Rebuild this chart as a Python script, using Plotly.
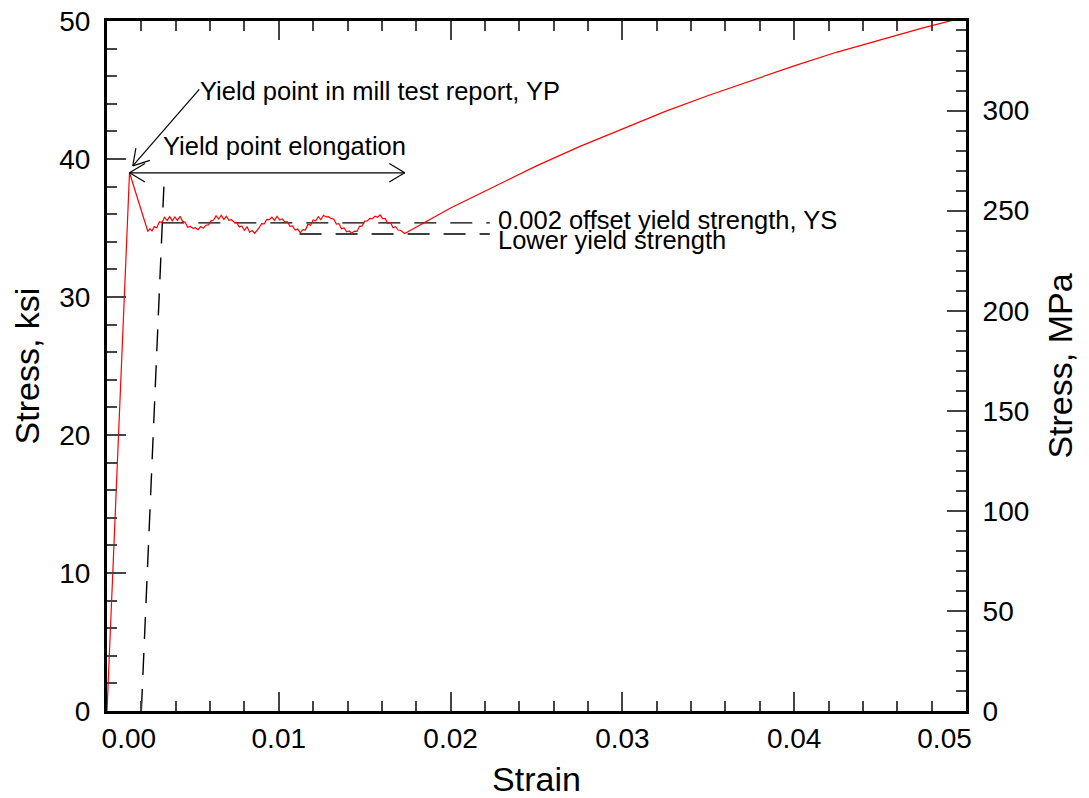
import math
import plotly.graph_objects as go

# ---------------- data ----------------
# elastic + upper yield point
elastic_strain = [0.0, 0.00131]
elastic_stress = [0.0, 39.0]

# yield plateau (includes noise)
plateau_strain = [0.00131, 0.00238, 0.00250, 0.00262, 0.00275, 0.00290, 0.00305, 0.00320, 0.00335, 0.00350,
                  0.00365, 0.00380, 0.00395, 0.00410, 0.00425, 0.00440, 0.00455, 0.00470, 0.00485, 0.00500,
                  0.00515, 0.00530, 0.00545, 0.00560, 0.00575, 0.00590, 0.00605, 0.00620, 0.00635, 0.00650,
                  0.00665, 0.00680, 0.00695, 0.00710, 0.00725, 0.00740, 0.00755, 0.00770, 0.00785, 0.00800,
                  0.00815, 0.00830, 0.00845, 0.00860, 0.00872, 0.00885, 0.00900, 0.00915, 0.00930, 0.00945,
                  0.00960, 0.00975, 0.00990, 0.01005, 0.01020, 0.01035, 0.01050, 0.01065, 0.01080, 0.01095,
                  0.01110, 0.01125, 0.01140, 0.01155, 0.01170, 0.01185, 0.01200, 0.01215, 0.01230, 0.01245,
                  0.01260, 0.01275, 0.01290, 0.01305, 0.01320, 0.01335, 0.01350, 0.01365, 0.01380, 0.01395,
                  0.01410, 0.01425, 0.01440, 0.01455, 0.01470, 0.01485, 0.01500, 0.01515, 0.01530, 0.01545,
                  0.01560, 0.01575, 0.01590, 0.01605, 0.01620, 0.01635, 0.01650, 0.01665, 0.01680, 0.01695,
                  0.01710, 0.01720, 0.01733]
plateau_stress = [39.00, 34.75, 34.95, 34.78, 35.10, 35.02, 35.45, 35.40, 35.78, 35.55,
                  35.82, 35.52, 35.80, 35.55, 35.85, 35.48, 35.42, 35.05, 35.12, 34.98,
                  35.02, 34.88, 35.10, 34.98, 35.20, 35.22, 35.52, 35.58, 35.88, 35.65,
                  35.92, 35.62, 35.85, 35.55, 35.60, 35.42, 35.40, 35.08, 35.15, 34.82,
                  35.10, 34.70, 34.82, 34.62, 34.78, 35.00, 35.32, 35.30, 35.62, 35.60,
                  35.78, 35.55, 35.85, 35.58, 35.65, 35.45, 35.45, 35.12, 35.15, 34.85,
                  34.92, 34.65, 34.88, 34.85, 35.28, 35.20, 35.58, 35.52, 35.82, 35.60,
                  35.92, 35.80, 35.82, 35.68, 35.65, 35.28, 35.32, 34.95, 35.00, 34.72,
                  34.78, 34.62, 34.78, 34.75, 35.12, 35.15, 35.50, 35.52, 35.70, 35.68,
                  35.85, 35.78, 35.95, 35.68, 35.68, 35.32, 35.40, 35.02, 35.10, 34.85,
                  34.82, 34.70, 34.60]

# strain hardening
hardening_strain = [0.01733, 0.0200, 0.0225, 0.0250, 0.0275, 0.0300, 0.0325, 0.0350,
                    0.0375, 0.0400, 0.0425, 0.0450, 0.0475, 0.0500]
hardening_stress = [34.60, 36.45, 38.00, 39.50, 40.90, 42.20, 43.45, 44.60,
                    45.70, 46.75, 47.75, 48.65, 49.50, 50.30]

# 0.002 offset line
offset_strain = [0.0020, 0.00331]
offset_stress = [0.0, 38.0]

# yield strength (offset) and lower yield strength levels
ys_strain = [0.00322, 0.02228]
ys_stress = [35.37, 35.37]
lys_strain = [0.01121, 0.02228]
lys_stress = [34.57, 34.57]

x_tick_vals = [0.0, 0.01, 0.02, 0.03, 0.04, 0.05]
x_tick_text = ["0.00", "0.01", "0.02", "0.03", "0.04", "0.05"]
x_label_pos = [0.00127, 0.01, 0.02, 0.03, 0.04, 0.04875]
y_tick_vals = [0, 10, 20, 30, 40, 50]
y_tick_text = ["0", "10", "20", "30", "40", "50"]

KSI_TO_MPA = 6.894757

# ---------------- layout geometry ----------------
# (the page body has an 8px margin, so the figure is offset by 8px)
W, H = 1081, 790
ML, MR, MT, MB = 99, 123, 13, 87
XR = [0.0, 0.05]
YR = [0.0, 50.0]
PW = W - ML - MR
PH = H - MT - MB
PX_X = PW / (XR[1] - XR[0])
PX_Y = PH / (YR[1] - YR[0])

FONT = "Liberation Sans, Arial, sans-serif"

fig = go.Figure()

curve_strain = elastic_strain + plateau_strain[1:] + hardening_strain[1:]
curve_stress = elastic_stress + plateau_stress[1:] + hardening_stress[1:]

dash = "22px,14px"
fig.add_trace(go.Scatter(x=offset_strain, y=offset_stress, mode="lines",
                         line=dict(color="black", width=1.4, dash=dash), hoverinfo="skip"))
fig.add_trace(go.Scatter(x=ys_strain, y=ys_stress, mode="lines",
                         line=dict(color="black", width=1.4, dash=dash), hoverinfo="skip"))
fig.add_trace(go.Scatter(x=lys_strain, y=lys_stress, mode="lines",
                         line=dict(color="black", width=1.4, dash=dash), hoverinfo="skip"))
fig.add_trace(go.Scatter(x=curve_strain, y=curve_stress, mode="lines",
                         line=dict(color="#ff0000", width=1.2), hoverinfo="skip"))

# helper traces so the extra axes are drawn
fig.add_trace(go.Scatter(x=[None], y=[None], xaxis="x2", yaxis="y", showlegend=False, hoverinfo="skip"))
fig.add_trace(go.Scatter(x=[None], y=[None], xaxis="x", yaxis="y2", showlegend=False, hoverinfo="skip"))

# ---------------- arrows (open V heads) ----------------
shapes = []


def seg(x0, y0, x1, y1):
    shapes.append(dict(type="line", xref="x", yref="y", x0=x0, y0=y0, x1=x1, y1=y1,
                       line=dict(color="black", width=1.2)))


def vhead(tx, ty, fx, fy, length=18, half_angle=31):
    dx = (fx - tx) * PX_X
    dy = (fy - ty) * PX_Y
    n = math.hypot(dx, dy)
    ux, uy = dx / n, dy / n
    for s in (1, -1):
        a = math.radians(half_angle) * s
        rx = ux * math.cos(a) - uy * math.sin(a)
        ry = ux * math.sin(a) + uy * math.cos(a)
        seg(tx, ty, tx + rx * length / PX_X, ty + ry * length / PX_Y)


# yield point elongation (double arrow)
ype = [0.00131, 0.01733]
ype_y = 39.0
seg(ype[0], ype_y, ype[1], ype_y)
vhead(ype[0], ype_y, ype[1], ype_y)
vhead(ype[1], ype_y, ype[0], ype_y)

# leader to yield point
yp_tip = (0.00150, 39.5)
yp_tail = (0.00537, 45.05)
seg(yp_tip[0], yp_tip[1], yp_tail[0], yp_tail[1])
vhead(yp_tip[0], yp_tip[1], yp_tail[0], yp_tail[1])

# ---------------- annotations ----------------
ann_font = dict(family=FONT, size=25.5, color="black")
annotations = [
    dict(x=0.00537, y=44.93, text="Yield point in mill test report, YP"),
    dict(x=0.00318, y=40.94, text="Yield point elongation"),
    dict(x=0.02272, y=35.58, text="0.002 offset yield strength, YS"),
    dict(x=0.02272, y=34.13, text="Lower yield strength"),
]
for a in annotations:
    a.update(xref="x", yref="y", xanchor="left", yanchor="middle", showarrow=False,
             font=ann_font, borderpad=0)

tick_font = dict(family=FONT, size=28, color="black")
title_font = dict(family=FONT, size=34, color="black")
tickcol = "#444444"

fig.update_layout(
    width=W, height=H,
    margin=dict(l=ML, r=MR, t=MT, b=MB, pad=0, autoexpand=False),
    paper_bgcolor="white", plot_bgcolor="white",
    showlegend=False,
    shapes=shapes,
    annotations=annotations,
    xaxis=dict(range=XR, showgrid=False, zeroline=False, automargin=False,
               showline=True, linecolor="black", linewidth=3, mirror="ticks",
               ticks="inside", ticklen=19, tickwidth=1.6, tickcolor=tickcol,
               tickvals=x_tick_vals, showticklabels=False,
               minor=dict(dtick=0.002, ticks="inside", ticklen=10, tickwidth=1.6, tickcolor=tickcol)),
    xaxis2=dict(range=XR, overlaying="x", side="bottom", anchor="y", automargin=False,
                showgrid=False, zeroline=False, showline=False, ticks="",
                tickvals=x_label_pos, ticktext=x_tick_text, tickfont=tick_font,
                ticklabelstandoff=8, ticklabeloverflow="allow",
                title=dict(text="Strain", font=title_font, standoff=16)),
    yaxis=dict(range=YR, showgrid=False, zeroline=False, automargin=False,
               showline=True, linecolor="black", linewidth=3, mirror=True,
               ticks="inside", ticklen=19, tickwidth=1.6, tickcolor=tickcol,
               tickvals=y_tick_vals, ticktext=y_tick_text,
               tickfont=tick_font, ticklabelstandoff=8, ticklabeloverflow="allow",
               minor=dict(dtick=2, ticks="inside", ticklen=10, tickwidth=1.6, tickcolor=tickcol),
               title=dict(text="Stress, ksi", font=title_font, standoff=12)),
    yaxis2=dict(range=[YR[0] * KSI_TO_MPA, YR[1] * KSI_TO_MPA], overlaying="y", side="right", anchor="x",
                showgrid=False, zeroline=False, automargin=False,
                showline=True, linecolor="black", linewidth=3,
                ticks="inside", ticklen=19, tickwidth=1.6, tickcolor=tickcol,
                dtick=50, tick0=0, tickfont=tick_font, ticklabelstandoff=8, ticklabeloverflow="allow",
                minor=dict(dtick=10, ticks="inside", ticklen=10, tickwidth=1.6, tickcolor=tickcol),
                title=dict(text="Stress, MPa", font=title_font, standoff=20)),
)

fig.write_html("out.html")
